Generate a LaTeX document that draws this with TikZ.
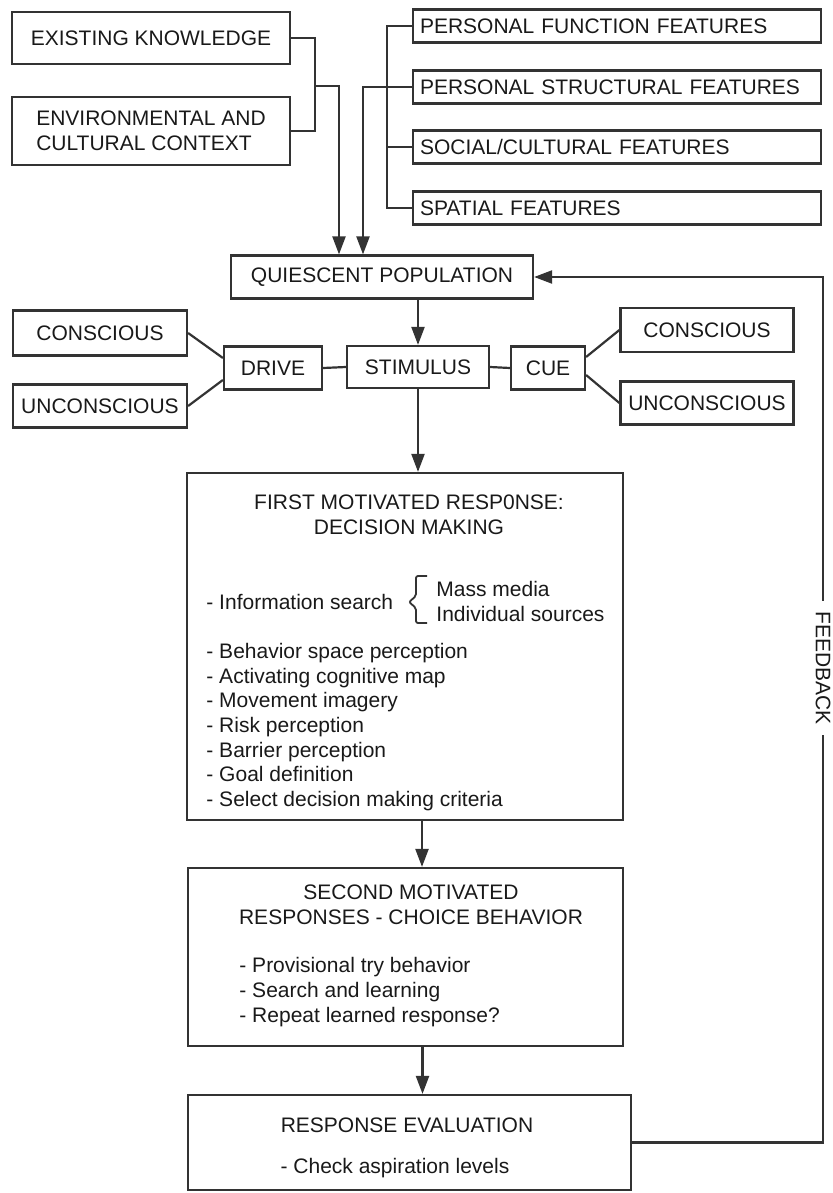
\documentclass[tikz,border=0pt]{standalone}
\usepackage{fontspec}
\setmainfont{Liberation Sans}
\usetikzlibrary{arrows.meta}

\begin{document}
\begin{tikzpicture}[x=1pt, y=-1pt, line width=2.2pt,
  every node/.style={font=\fontsize{21}{25}\selectfont, text=black!90},
  box/.style={draw=black!80, inner sep=0pt},
  feat/.style={box, minimum width=408pt, minimum height=33pt, text width=394pt, align=left},
  line/.style={draw=black!80},
  arr/.style={draw=black!80, -{Triangle[width=13pt, length=18pt]}}]
  \useasboundingbox (0,0) rectangle (832,1193);
  % inputs
  \node[box, minimum width=278pt, minimum height=52pt] (know) at (151,38) {EXISTING KNOWLEDGE};
  \node[box, minimum width=278pt, minimum height=68pt, align=left] (env) at (151,131) {ENVIRONMENTAL AND\\CULTURAL CONTEXT};
  \node[feat] (pff) at (617,26) {PERSONAL FUNCTION FEATURES};
  \node[feat] (psf) at (617,87) {PERSONAL STRUCTURAL FEATURES};
  \node[feat] (scf) at (617,147) {SOCIAL/CULTURAL FEATURES};
  \node[feat] (spf) at (617,208) {SPATIAL FEATURES};
  \node[box, minimum width=302pt, minimum height=43pt] (qp) at (382,277) {QUIESCENT POPULATION};
  % stimulus row
  \node[box, minimum width=142pt, minimum height=42pt] (stim) at (418,367) {STIMULUS};
  \node[box, minimum width=98pt, minimum height=43pt] (drive) at (273,368) {DRIVE};
  \node[box, minimum width=74pt, minimum height=43pt] (cue) at (548,368) {CUE};
  \node[box, minimum width=174pt, minimum height=45pt] (lcon) at (100,333) {CONSCIOUS};
  \node[box, minimum width=174pt, minimum height=43pt] (lunc) at (100,406) {UNCONSCIOUS};
  \node[box, minimum width=173pt, minimum height=44pt] (rcon) at (707,330) {CONSCIOUS};
  \node[box, minimum width=173pt, minimum height=43pt] (runc) at (707,403) {UNCONSCIOUS};
  % responses
  \node[box, minimum width=436pt, minimum height=347pt] (fmr) at (405,646.5) {};
  \node[align=center] (fmrhead) at (409,515) {FIRST MOTIVATED RESP0NSE:\\DECISION MAKING};
  \node[anchor=west] (info) at (202,602) {- Information search};
  \node[anchor=west, align=left] (media) at (432,601) {Mass media\\Individual sources};
  \draw[line, line width=1.8pt, rounded corners=2pt] (427,576) -- (416,576) -- (416,596) -- (409,602) -- (416,608) -- (416,623) -- (427,623);
  \node[anchor=west, align=left, font=\fontsize{21}{24.7}\selectfont] (fmrlist) at (202,727) {- Behavior space perception\\- Activating cognitive map\\- Movement imagery\\- Risk perception\\- Barrier perception\\- Goal definition\\- Select decision making criteria};
  \node[box, minimum width=435pt, minimum height=178pt] (smr) at (405.5,957) {};
  \node[align=center] (smrhead) at (411,905) {SECOND MOTIVATED\\RESPONSES - CHOICE BEHAVIOR};
  \node[anchor=west, align=left] (smrlist) at (235,992) {- Provisional try behavior\\- Search and learning\\- Repeat learned response?};
  \node[box, minimum width=443pt, minimum height=95pt] (reval) at (409.5,1142.5) {};
  \node (rehead) at (407,1125) {RESPONSE EVALUATION};
  \node (recheck) at (395,1168) {- Check aspiration levels};
  % connectors
  \coordinate (lj) at (315,86);
  \coordinate (rj) at ([xshift=-25pt]psf.west);
  \coordinate (fbtop) at (823,277);
  \draw[line] (know.east) -| (lj) |- (env.east);
  \draw[arr] (lj) -| ([xshift=-43pt]qp.north);
  \draw[line] (pff.west) -| (rj) |- (spf.west);
  \draw[line] (psf.west) -- (rj);
  \draw[line] (scf.west) -- (scf.west -| rj);
  \draw[arr] (rj) -| ([xshift=-19pt]qp.north);
  \draw[arr] (qp.south -| stim.north) -- (stim.north);
  \draw[line] (lcon.east) -- ([yshift=10pt]drive.west);
  \draw[line] (lunc.east) -- ([yshift=-12pt]drive.west);
  \draw[line] (drive.east) -- (stim.west);
  \draw[line] (stim.east) -- (cue.west);
  \draw[line] ([yshift=11pt]cue.east) -- (rcon.west);
  \draw[line] ([yshift=-7pt]cue.east) -- (runc.west);
  \draw[arr] (stim.south) -- (stim.south |- fmr.north);
  \draw[arr] ([xshift=17pt]fmr.south) -- ([xshift=17pt]fmr.south |- smr.north);
  \draw[arr] ([xshift=17pt]smr.south) -- ([xshift=17pt]smr.south |- reval.north);
  \draw[arr] (reval.east) -| (fbtop) -- (qp.east);
  \node[fill=white, rotate=-90, inner xsep=10pt, inner ysep=3pt] (fbl) at (823,668) {FEEDBACK};
\end{tikzpicture}
\end{document}
